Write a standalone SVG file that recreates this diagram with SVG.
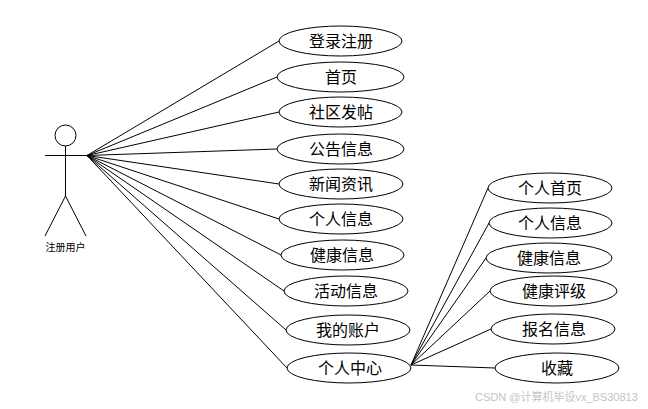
<svg xmlns="http://www.w3.org/2000/svg" width="648" height="409" viewBox="0 0 648 409">
<style>
.n ellipse{fill:#fff;stroke:#000;stroke-width:1}
.n text{font:16px "Noto Sans CJK SC","Liberation Sans",sans-serif;text-anchor:middle;fill:#000}
#connectors line{stroke:#000;stroke-width:1;fill:none}
#actor circle,#actor path{fill:none;stroke:#000;stroke-width:1}
</style>
<rect width="648" height="409" fill="#fff"/>
<g id="connectors">
<line x1="87" y1="155.500" x2="279" y2="41"/>
<line x1="87" y1="155.500" x2="277" y2="77"/>
<line x1="87" y1="155.500" x2="279" y2="112"/>
<line x1="87" y1="155.500" x2="277" y2="149"/>
<line x1="87" y1="155.500" x2="279" y2="184"/>
<line x1="87" y1="155.500" x2="279" y2="219"/>
<line x1="87" y1="155.500" x2="281" y2="255"/>
<line x1="87" y1="155.500" x2="284" y2="291"/>
<line x1="87" y1="155.500" x2="286" y2="330"/>
<line x1="87" y1="155.500" x2="287" y2="368"/>
<line x1="411" y1="365" x2="488" y2="188"/>
<line x1="411" y1="365" x2="489" y2="223"/>
<line x1="411" y1="365" x2="486" y2="258"/>
<line x1="411" y1="365" x2="490" y2="291"/>
<line x1="411" y1="365" x2="491" y2="329"/>
<line x1="411" y1="365" x2="495" y2="368"/>
</g>
<g id="actor">
<circle cx="65.500" cy="135.500" r="10.500"/>
<path d="M45 155.500H88M65.500 146V196L45 236M65.500 196L86 236"/>
<text x="65.500" y="251" font-family="Noto Sans CJK SC,sans-serif" font-size="10" text-anchor="middle">注册用户</text>
</g>
<g id="n1" class="n"><ellipse cx="340.500" cy="41" rx="61.500" ry="15"/><text x="341" y="47">登录注册</text></g>
<g id="n2" class="n"><ellipse cx="340.500" cy="77" rx="63.500" ry="15"/><text x="341" y="83">首页</text></g>
<g id="n3" class="n"><ellipse cx="340.500" cy="112" rx="61.500" ry="15"/><text x="341" y="118">社区发帖</text></g>
<g id="n4" class="n"><ellipse cx="340.500" cy="149" rx="63.500" ry="15"/><text x="341" y="155">公告信息</text></g>
<g id="n5" class="n"><ellipse cx="341" cy="184" rx="62" ry="15"/><text x="341" y="190">新闻资讯</text></g>
<g id="n6" class="n"><ellipse cx="341" cy="219" rx="62" ry="15"/><text x="341" y="225">个人信息</text></g>
<g id="n7" class="n"><ellipse cx="342.500" cy="255" rx="61.500" ry="15"/><text x="342" y="261">健康信息</text></g>
<g id="n8" class="n"><ellipse cx="346" cy="291" rx="62" ry="15"/><text x="346" y="297">活动信息</text></g>
<g id="n9" class="n"><ellipse cx="348" cy="330" rx="62" ry="15"/><text x="348" y="336">我的账户</text></g>
<g id="n10" class="n"><ellipse cx="349" cy="368" rx="62" ry="15"/><text x="350" y="374">个人中心</text></g>
<g id="n11" class="n"><ellipse cx="550" cy="188" rx="62" ry="15"/><text x="550" y="194">个人首页</text></g>
<g id="n12" class="n"><ellipse cx="550.500" cy="223" rx="61.500" ry="15"/><text x="550" y="229">个人信息</text></g>
<g id="n13" class="n"><ellipse cx="549" cy="258" rx="63" ry="15"/><text x="549" y="264">健康信息</text></g>
<g id="n14" class="n"><ellipse cx="553.500" cy="291" rx="63.500" ry="15"/><text x="554" y="297">健康评级</text></g>
<g id="n15" class="n"><ellipse cx="553" cy="329" rx="62" ry="15"/><text x="554" y="335">报名信息</text></g>
<g id="n16" class="n"><ellipse cx="557" cy="368" rx="62" ry="15"/><text x="557" y="374">收藏</text></g>
<text x="475" y="401" font-family="Liberation Sans,Noto Sans CJK SC,sans-serif" font-size="11" fill="#c4c4c4">CSDN @计算机毕设vx_BS30813</text>
</svg>
